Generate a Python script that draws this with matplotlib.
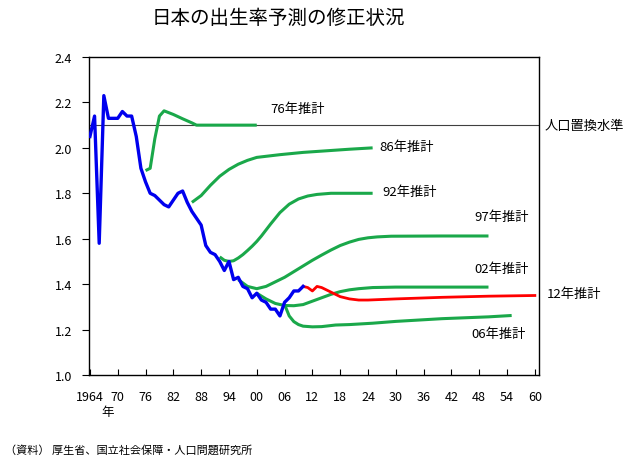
import matplotlib
matplotlib.use("Agg")
import matplotlib.pyplot as plt

plt.rcParams['font.family'] = ['Noto Sans CJK JP', 'DejaVu Sans']

# 実績値
actual_years = list(range(1964, 2011))
actual_tfr = [2.05, 2.14, 1.58, 2.23, 2.13, 2.13, 2.13, 2.16, 2.14, 2.14,
              2.05, 1.91, 1.85, 1.80, 1.79, 1.77, 1.75, 1.74, 1.77, 1.80,
              1.81, 1.76, 1.72, 1.69, 1.66, 1.57, 1.54, 1.53, 1.50, 1.46,
              1.50, 1.42, 1.43, 1.39, 1.38, 1.34, 1.36, 1.33, 1.32, 1.29,
              1.29, 1.26, 1.32, 1.34, 1.37, 1.37, 1.39]

# 各推計
p76_years = [1976, 1977, 1978, 1979, 1980, 1982, 1984, 1986, 1987, 1990, 1995, 2000]
p76_tfr = [1.90, 1.91, 2.04, 2.14, 2.163, 2.147, 2.128, 2.11, 2.10, 2.10, 2.10, 2.10]

p86_years = [1986, 1988, 1990, 1992, 1994, 1996, 1998, 2000, 2005, 2010, 2015, 2020, 2025]
p86_tfr = [1.76, 1.79, 1.835, 1.875, 1.905, 1.928, 1.945, 1.958, 1.97, 1.98, 1.987, 1.994, 2.00]

p92_years = [1992, 1993, 1994, 1995, 1996, 1997, 1998, 1999, 2000, 2001, 2003, 2005, 2007,
             2009, 2011, 2013, 2016, 2020, 2025]
p92_tfr = [1.52, 1.505, 1.50, 1.503, 1.515, 1.53, 1.548, 1.567, 1.588, 1.612, 1.665, 1.715,
           1.752, 1.775, 1.788, 1.795, 1.80, 1.80, 1.80]

p97_years = [1996, 1998, 2000, 2002, 2004, 2006, 2008, 2010, 2012, 2014, 2016, 2018, 2020,
             2022, 2024, 2026, 2029, 2040, 2050]
p97_tfr = [1.42, 1.39, 1.38, 1.39, 1.41, 1.43, 1.455, 1.48, 1.505, 1.528, 1.55, 1.57, 1.585,
           1.597, 1.604, 1.608, 1.611, 1.612, 1.612]

p02_years = [2000, 2002, 2004, 2006, 2008, 2010, 2012, 2014, 2016, 2018, 2020, 2022, 2025,
             2030, 2040, 2050]
p02_tfr = [1.36, 1.335, 1.315, 1.306, 1.305, 1.31, 1.325, 1.34, 1.355, 1.367, 1.375, 1.38,
           1.385, 1.387, 1.387, 1.387]

p06_years = [2006, 2007, 2008, 2009, 2010, 2012, 2014, 2017, 2020, 2025, 2030, 2035, 2040,
             2045, 2050, 2055]
p06_tfr = [1.31, 1.26, 1.235, 1.222, 1.215, 1.212, 1.213, 1.22, 1.222, 1.228, 1.236, 1.242,
           1.248, 1.252, 1.256, 1.262]

p12_years = [2010, 2011, 2012, 2013, 2014, 2015, 2016, 2017, 2018, 2019, 2020, 2022, 2024,
             2030, 2040, 2050, 2060]
p12_tfr = [1.39, 1.385, 1.37, 1.39, 1.385, 1.375, 1.365, 1.355, 1.345, 1.34, 1.335, 1.33,
           1.33, 1.335, 1.342, 1.347, 1.35]

replacement = 2.1

xticks = list(range(1964, 2061, 6))
xtick_labels = ['1964'] + ['%02d' % (y % 100) for y in xticks[1:]]
yticks = [1.0, 1.2, 1.4, 1.6, 1.8, 2.0, 2.2, 2.4]

green = '#1aa84a'

fig = plt.figure(figsize=(6.32, 4.6), dpi=100)
ax = fig.add_axes([89 / 632, 1 - 376 / 460, 450 / 632, 318 / 460])

ax.axhline(replacement, color='#404040', lw=0.8, zorder=1)

for yrs, vals in [(p76_years, p76_tfr), (p86_years, p86_tfr), (p92_years, p92_tfr),
                  (p97_years, p97_tfr), (p02_years, p02_tfr), (p06_years, p06_tfr)]:
    ax.plot(yrs, vals, color=green, lw=2.2, solid_capstyle='butt', zorder=2)

ax.plot(p12_years, p12_tfr, color='#ff0000', lw=2.0, zorder=3)
ax.plot(actual_years, actual_tfr, color='#0000ee', lw=2.4, zorder=4)

ax.set_xlim(1963.8, 2060.9)
ax.set_ylim(1.0, 2.4)
ax.set_xticks(xticks)
ax.set_xticklabels(xtick_labels)
ax.set_yticks(yticks)
ax.set_yticklabels(['%.1f' % v for v in yticks])
ax.tick_params(axis='x', direction='in', length=4, width=0.8, pad=11, labelsize=9)
ax.tick_params(axis='y', direction='out', length=5, width=0.8, pad=7, labelsize=9)
for s in ax.spines.values():
    s.set_linewidth(1.0)

lab = dict(fontsize=9.5, va='center', ha='left', clip_on=False)
ax.text(2003.0, 2.175, '76年推計', **lab)
ax.text(2026.4, 2.005, '86年推計', **lab)
ax.text(2027.1, 1.81, '92年推計', **lab)
ax.text(2047.0, 1.696, '97年推計', **lab)
ax.text(2047.0, 1.471, '02年推計', **lab)
ax.text(2046.3, 1.184, '06年推計', **lab)
ax.text(2062.6, 1.361, '12年推計', **lab)
ax.text(2062.1, 2.10, '人口置換水準', **lab)

fig.text(278 / 632, 1 - 18.5 / 460, '日本の出生率予測の修正状況', fontsize=14,
         ha='center', va='center')
fig.text(108 / 632, 1 - 413 / 460, '年', fontsize=9, ha='center', va='center')
fig.text(5 / 632, 1 - 450 / 460, '（資料） 厚生省、国立社会保障・人口問題研究所',
         fontsize=8, ha='left', va='center')

fig.savefig('out.png', dpi=100)
